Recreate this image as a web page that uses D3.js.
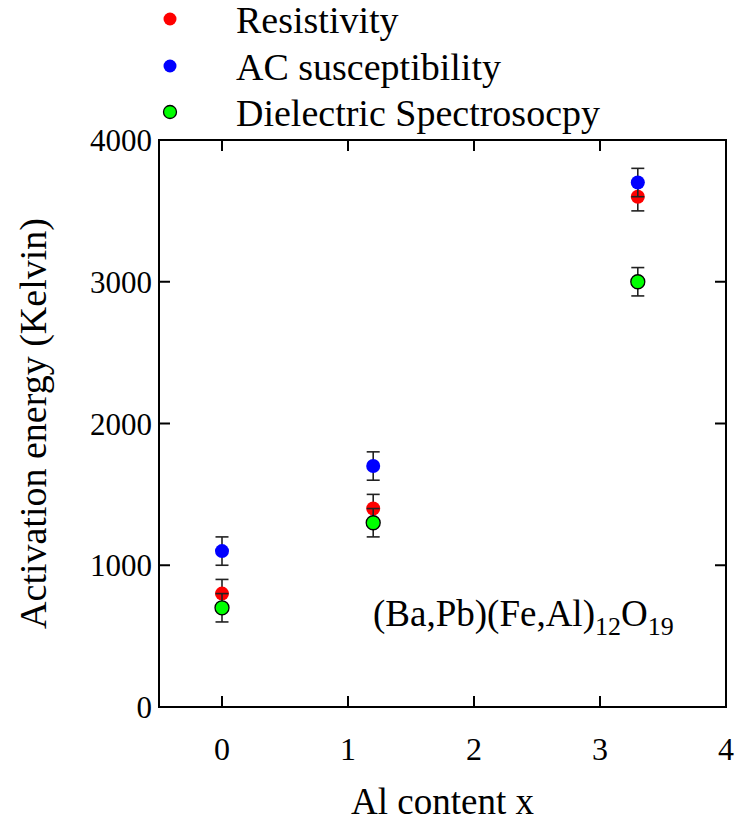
<!DOCTYPE html>
<html>
<head>
<meta charset="utf-8">
<script src="https://cdn.jsdelivr.net/npm/d3@7"></script>
<style>
  html, body { margin: 0; padding: 0; background: #fff; }
  svg { display: block; }
</style>
</head>
<body>
<script>
// Activation energy of (Ba,Pb)(Fe,Al)12O19 versus Al content, three techniques
const alContent = [0, 1.2, 3.3];
const resistivity = [800, 1400, 3600];
const acSusceptibility = [1100, 1700, 3700];
const dielectric = [700, 1300, 3000];
const errorSize = [100, 100, 100];
const seriesNames = ["Resistivity", "AC susceptibility", "Dielectric Spectrosocpy"];
const seriesColors = ["#ff0000", "#0000ff", "#00ff00"];
const xTicks = [0, 1, 2, 3, 4];
const yTicks = [0, 1000, 2000, 3000, 4000];

const FONT = "'Liberation Serif', 'Times New Roman', 'DejaVu Serif', serif";
const W = 736, H = 825;
const margin = { left: 159, right: 10, top: 140, bottom: 118 };

const svg = d3.select("body").append("svg").attr("width", W).attr("height", H)
  .attr("font-family", FONT);

const x = d3.scaleLinear().domain([-0.5, 4]).range([margin.left, W - margin.right]);
const y = d3.scaleLinear().domain([0, 4000]).range([H - margin.bottom, margin.top]);

const x0 = x.range()[0], x1 = x.range()[1];
const y0 = y.range()[0], y1 = y.range()[1];

// Tick marks drawn inward on all four sides
const tickLen = 11;
const g = svg.append("g");
xTicks.filter(t => t > -0.5 && t < 4).forEach(t => {
  g.append("line").attr("x1", x(t)).attr("x2", x(t)).attr("y1", y0).attr("y2", y0 - tickLen)
    .attr("stroke", "#000").attr("stroke-width", 2);
  g.append("line").attr("x1", x(t)).attr("x2", x(t)).attr("y1", y1).attr("y2", y1 + tickLen)
    .attr("stroke", "#000").attr("stroke-width", 2);
});
yTicks.filter(t => t > 0 && t < 4000).forEach(t => {
  g.append("line").attr("x1", x0).attr("x2", x0 + tickLen).attr("y1", y(t)).attr("y2", y(t))
    .attr("stroke", "#000").attr("stroke-width", 2);
  g.append("line").attr("x1", x1).attr("x2", x1 - tickLen).attr("y1", y(t)).attr("y2", y(t))
    .attr("stroke", "#000").attr("stroke-width", 2);
});

// Frame
svg.append("rect").attr("x", x0).attr("y", y1).attr("width", x1 - x0).attr("height", y0 - y1)
  .attr("fill", "none").attr("stroke", "#000").attr("stroke-width", 2);

// Tick labels
svg.append("g").selectAll("text").data(xTicks).join("text")
  .attr("x", d => x(d)).attr("y", y0 + 53)
  .attr("text-anchor", "middle").attr("font-size", 32).text(d => d);
svg.append("g").selectAll("text").data(yTicks).join("text")
  .attr("x", x0 - 7).attr("y", d => y(d) + 11)
  .attr("text-anchor", "end").attr("font-size", 31).text(d => d);

// Axis titles
svg.append("text").attr("x", (x0 + x1) / 2).attr("y", 814)
  .attr("text-anchor", "middle").attr("font-size", 37).text("Al content x");
svg.append("text").attr("transform", `translate(46,${(y0 + y1) / 2}) rotate(-90)`)
  .attr("text-anchor", "middle").attr("font-size", 38).text("Activation energy (Kelvin)");

// Composition label with subscripts
const comp = svg.append("text").attr("x", 373).attr("y", 626).attr("font-size", 37);
comp.append("tspan").text("(Ba,Pb)(Fe,Al)");
comp.append("tspan").attr("font-size", 26).attr("dy", 9).text("12");
comp.append("tspan").attr("dy", -9).text("O");
comp.append("tspan").attr("font-size", 26).attr("dy", 9).text("19");

// Data: each series draws its error bars, then its markers
const allSeries = [resistivity, acSusceptibility, dielectric];
const capHalf = 6.5, r = 7;
allSeries.forEach((vals, si) => {
  const sg = svg.append("g");
  const pts = alContent.map((a, i) => ({ a, v: vals[i], e: errorSize[i] }));
  pts.forEach(p => {
    const cx = x(p.a);
    sg.append("line").attr("x1", cx).attr("x2", cx).attr("y1", y(p.v - p.e)).attr("y2", y(p.v + p.e))
      .attr("stroke", "#222").attr("stroke-width", 1.6);
    [p.v - p.e, p.v + p.e].forEach(ev => {
      sg.append("line").attr("x1", cx - capHalf).attr("x2", cx + capHalf).attr("y1", y(ev)).attr("y2", y(ev))
        .attr("stroke", "#222").attr("stroke-width", 1.6);
    });
  });
  sg.selectAll("circle").data(pts).join("circle")
    .attr("cx", d => x(d.a)).attr("cy", d => y(d.v)).attr("r", r)
    .attr("fill", seriesColors[si])
    .attr("stroke", si === 2 ? "#000" : "none").attr("stroke-width", 1.3);
});

// Legend
const legendY = [19, 66, 112];
seriesNames.forEach((name, i) => {
  svg.append("circle").attr("cx", 170).attr("cy", legendY[i]).attr("r", 6.5)
    .attr("fill", seriesColors[i]).attr("stroke", i === 2 ? "#000" : "none").attr("stroke-width", 1.3);
  svg.append("text").attr("x", 236).attr("y", legendY[i] + 14).attr("font-size", 38).text(name);
});
</script>
</body>
</html>
